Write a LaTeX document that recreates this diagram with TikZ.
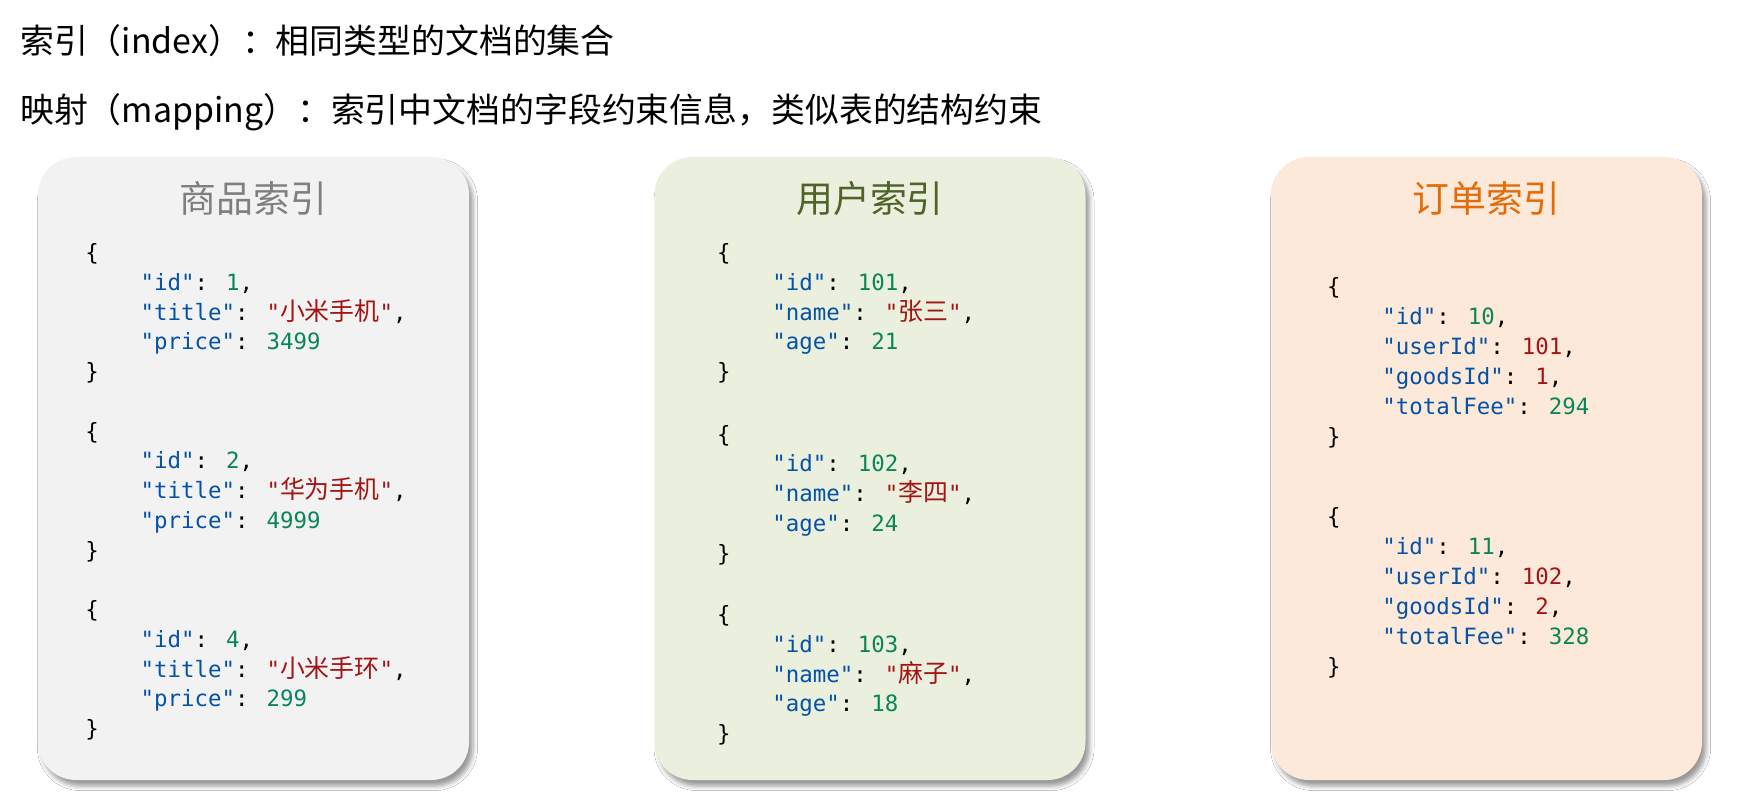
\documentclass[tikz,border=0pt]{standalone}
\usepackage{fontspec}
\setmainfont{Noto Sans CJK SC}
\newfontfamily\cjkf{Noto Sans CJK SC}
\newfontfamily\codef{DejaVu Sans Mono}
\usetikzlibrary{shadows.blur}
\definecolor{keyc}{HTML}{0451A5}
\definecolor{numc}{HTML}{098658}
\definecolor{strc}{HTML}{A31515}
\definecolor{grayfill}{HTML}{F2F2F2}
\definecolor{greenfill}{HTML}{EBF0DE}
\definecolor{orangefill}{HTML}{FDE9D9}
\definecolor{graytitle}{HTML}{7F7F7F}
\definecolor{greentitle}{HTML}{4F6228}
\definecolor{orangetitle}{HTML}{E36C09}
\newcommand{\jkey}[1]{\textcolor{keyc}{#1}}
\newcommand{\jnum}[1]{\textcolor{numc}{#1}}
\newcommand{\jred}[1]{\textcolor{strc}{#1}}
\newcommand{\jstr}[1]{\textcolor{strc}{"{\cjkf\fontsize{25}{28}\selectfont #1}"}}
\tikzset{
  panel/.style={rounded corners=38bp, minimum width=431bp, minimum height=623bp,
    inner sep=0pt, draw=none,
    blur shadow={shadow xshift=4bp, shadow yshift=-6bp, shadow blur radius=4.5bp, shadow opacity=40}},
  codel/.style={anchor=base west, inner sep=0pt, font=\codef\fontsize{22.5}{28}\selectfont},
  titlel/.style={anchor=base, inner sep=0pt, font=\cjkf\fontsize{37}{40}\selectfont},
  headl/.style={anchor=base west, inner sep=0pt, font=\cjkf\fontsize{34}{40}\selectfont}
}
\begin{document}
\begin{tikzpicture}[x=1bp,y=-1bp]
\fill[white] (0,0) rectangle (1745,796);
\useasboundingbox (0,0) rectangle (1745,796);

% header
\node[headl] (h1) at (20,54) {索引（index）：相同类型的文档的集合};
\node[headl] (h2) at (20,122) {映射（mapping）：索引中文档的字段约束信息，类似表的结构约束};

% panels
\node[panel, fill=grayfill] (goods) at (253.5,468.5) {};
\node[panel, fill=greenfill] (users) at (870,468.5) {};
\node[panel, fill=orangefill] (orders) at (1486.5,468.5) {};

% titles
\node[titlel, text=graytitle] (t1) at (253.5,212) {商品索引};
\node[titlel, text=greentitle] (t2) at (870,212) {用户索引};
\node[titlel, text=orangetitle] (t3) at (1486.5,212) {订单索引};

% goods index
\node[codel] (g1a) at (85.2,260.5) {\{};
\node[codel] (g1b) at (140.4,290.3) {\jkey{"id"}: \jnum{1},};
\node[codel] (g1c) at (140.4,320.1) {\jkey{"title"}: \jstr{小米手机},};
\node[codel] (g1d) at (140.4,349.9) {\jkey{"price"}: \jnum{3499}};
\node[codel] (g1e) at (85.2,379.7) {\}};

\node[codel] (g2a) at (85.2,439) {\{};
\node[codel] (g2b) at (140.4,468.8) {\jkey{"id"}: \jnum{2},};
\node[codel] (g2c) at (140.4,498.6) {\jkey{"title"}: \jstr{华为手机},};
\node[codel] (g2d) at (140.4,528.4) {\jkey{"price"}: \jnum{4999}};
\node[codel] (g2e) at (85.2,558.2) {\}};

\node[codel] (g3a) at (85.2,617.5) {\{};
\node[codel] (g3b) at (140.4,647.3) {\jkey{"id"}: \jnum{4},};
\node[codel] (g3c) at (140.4,677.1) {\jkey{"title"}: \jstr{小米手环},};
\node[codel] (g3d) at (140.4,706.9) {\jkey{"price"}: \jnum{299}};
\node[codel] (g3e) at (85.2,736.7) {\}};

% users index
\node[codel] (u1a) at (717,260.5) {\{};
\node[codel] (u1b) at (772.2,290.3) {\jkey{"id"}: \jnum{101},};
\node[codel] (u1c) at (772.2,320.1) {\jkey{"name"}: \jstr{张三},};
\node[codel] (u1d) at (772.2,349.9) {\jkey{"age"}: \jnum{21}};
\node[codel] (u1e) at (717,379.7) {\}};

\node[codel] (u2a) at (717,442) {\{};
\node[codel] (u2b) at (772.2,471.8) {\jkey{"id"}: \jnum{102},};
\node[codel] (u2c) at (772.2,501.6) {\jkey{"name"}: \jstr{李四},};
\node[codel] (u2d) at (772.2,531.4) {\jkey{"age"}: \jnum{24}};
\node[codel] (u2e) at (717,561.2) {\}};

\node[codel] (u3a) at (717,622.5) {\{};
\node[codel] (u3b) at (772.2,652.3) {\jkey{"id"}: \jnum{103},};
\node[codel] (u3c) at (772.2,682.1) {\jkey{"name"}: \jstr{麻子},};
\node[codel] (u3d) at (772.2,711.9) {\jkey{"age"}: \jnum{18}};
\node[codel] (u3e) at (717,741.7) {\}};

% orders index
\node[codel] (o1a) at (1327,294) {\{};
\node[codel] (o1b) at (1382.2,324) {\jkey{"id"}: \jnum{10},};
\node[codel] (o1c) at (1382.2,354) {\jkey{"userId"}: \jred{101},};
\node[codel] (o1d) at (1382.2,384) {\jkey{"goodsId"}: \jred{1},};
\node[codel] (o1e) at (1382.2,414) {\jkey{"totalFee"}: \jnum{294}};
\node[codel] (o1f) at (1327,444) {\}};

\node[codel] (o2a) at (1327,524) {\{};
\node[codel] (o2b) at (1382.2,554) {\jkey{"id"}: \jnum{11},};
\node[codel] (o2c) at (1382.2,584) {\jkey{"userId"}: \jred{102},};
\node[codel] (o2d) at (1382.2,614) {\jkey{"goodsId"}: \jred{2},};
\node[codel] (o2e) at (1382.2,644) {\jkey{"totalFee"}: \jnum{328}};
\node[codel] (o2f) at (1327,674) {\}};
\end{tikzpicture}
\end{document}
